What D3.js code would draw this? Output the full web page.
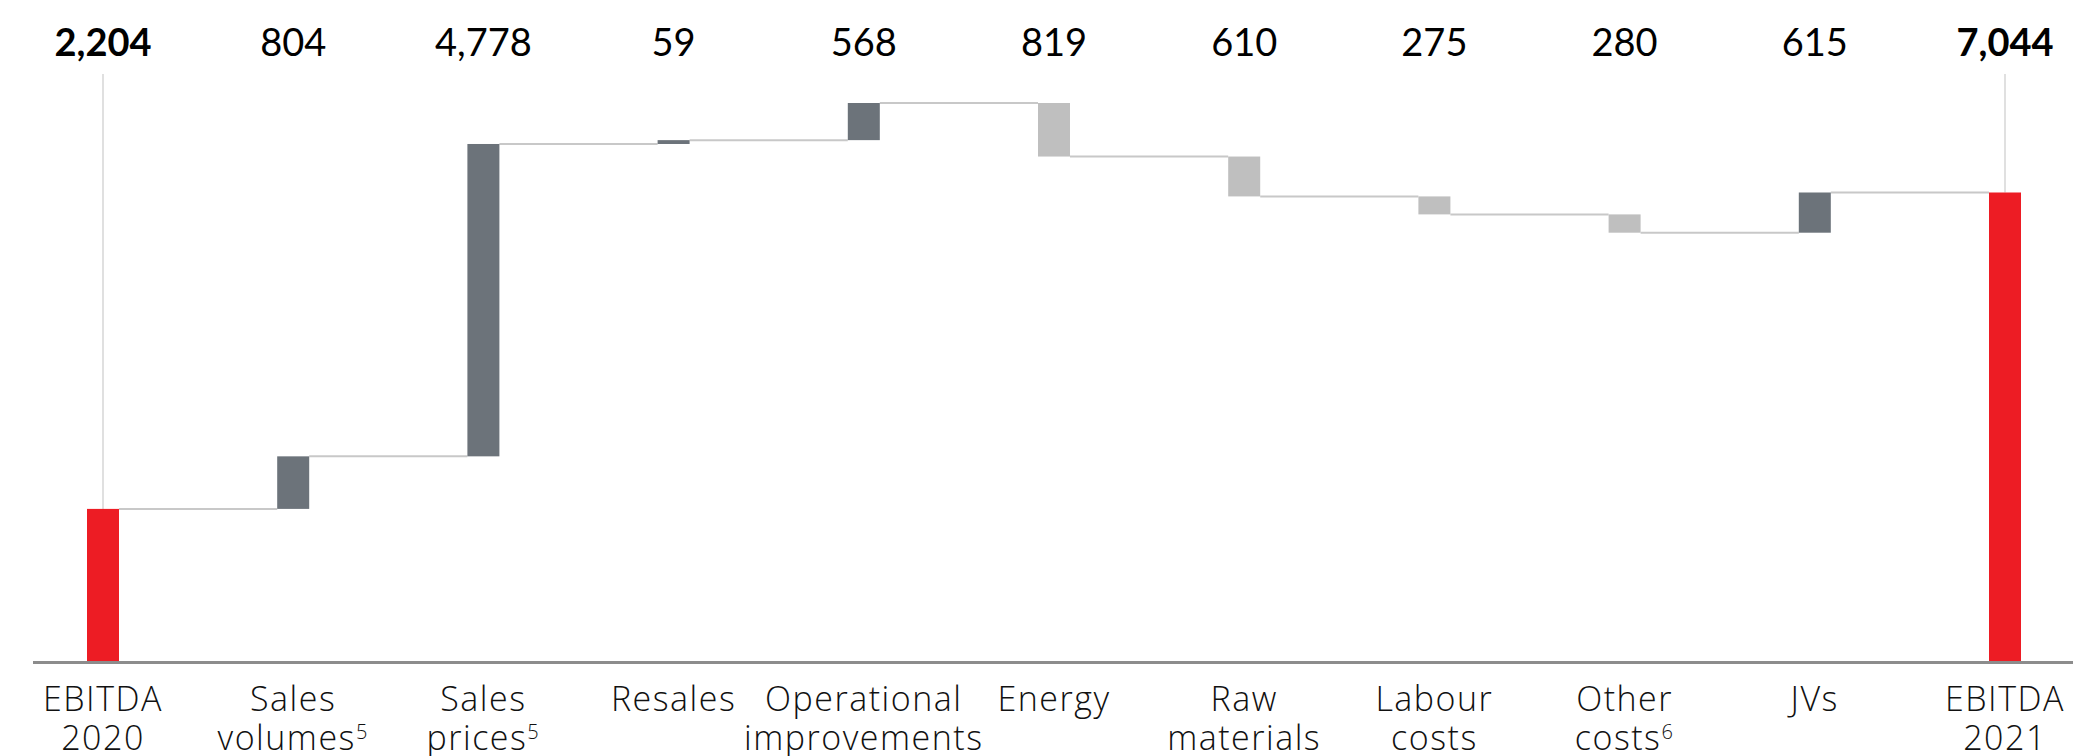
<!DOCTYPE html>
<html>
<head>
<meta charset="utf-8">
<script src="https://cdn.jsdelivr.net/npm/d3@7"></script>
<style>
  body { margin: 0; background: #fff; }
  svg { display: block; }
  .val { font-family: Lato, "Open Sans", sans-serif; font-size: 38px; fill: #000; }
  .cat { font-family: "Open Sans", Lato, sans-serif; font-weight: 300; font-size: 34px; letter-spacing: 1.5px; fill: #111; }
</style>
</head>
<body>
<svg width="2073" height="756"></svg>
<script>
  // data
  const categories = ["EBITDA 2020", "Sales volumes", "Sales prices", "Resales", "Operational improvements",
                      "Energy", "Raw materials", "Labour costs", "Other costs", "JVs", "EBITDA 2021"];
  const labelLines = [["EBITDA", "2020"], ["Sales", "volumes"], ["Sales", "prices"], ["Resales"],
                      ["Operational", "improvements"], ["Energy"], ["Raw", "materials"], ["Labour", "costs"],
                      ["Other", "costs"], ["JVs"], ["EBITDA", "2021"]];
  const footnotes = ["", "5", "5", "", "", "", "", "", "6", "", ""];
  const values = [2204, 804, 4778, 59, 568, -819, -610, -275, -280, 615, 7044];
  const kinds = ["total", "up", "up", "up", "up", "down", "down", "down", "down", "up", "total"];

  const svg = d3.select('svg');
  const g = svg.append('g');

  const colors = { total: '#ed1c24', up: '#6c737a', down: '#bfbfbf' };

  // running totals
  let run = 0;
  const bars = values.map((v, i) => {
    let start, end;
    if (kinds[i] === 'total') { start = 0; end = v; run = v; }
    else { start = run; end = run + v; run = end; }
    return { cat: categories[i], i, v, start, end, kind: kinds[i] };
  });

  const x = d3.scalePoint().domain(categories).range([103, 2005]);
  const y = d3.scaleLinear().domain([-138, 8413]).range([662, 103]);
  const bw = 32;

  // vertical guide lines above the totals
  g.selectAll('line.guide')
    .data(bars.filter(d => d.kind === 'total'))
    .enter().append('line')
      .attr('x1', d => x(d.cat)).attr('x2', d => x(d.cat))
      .attr('y1', 74).attr('y2', d => y(d.end))
      .attr('stroke', '#d6d6d6').attr('stroke-width', 1.5);

  // connectors
  g.selectAll('line.conn')
    .data(bars.slice(0, -1))
    .enter().append('line')
      .attr('x1', d => x(d.cat) + bw / 2)
      .attr('x2', d => x(categories[d.i + 1]) - bw / 2)
      .attr('y1', d => y(d.end)).attr('y2', d => y(d.end))
      .attr('stroke', '#c8c8c8').attr('stroke-width', 2);

  // bars
  g.selectAll('rect')
    .data(bars)
    .enter().append('rect')
      .attr('x', d => x(d.cat) - bw / 2)
      .attr('width', bw)
      .attr('y', d => d.kind === 'total' ? y(d.end) : y(Math.max(d.start, d.end)))
      .attr('height', d => d.kind === 'total' ? y.range()[0] - y(d.end) : Math.abs(y(d.start) - y(d.end)))
      .attr('fill', d => colors[d.kind]);

  // baseline
  g.append('line')
    .attr('x1', 33).attr('x2', 2073)
    .attr('y1', y.range()[0] + 0.5).attr('y2', y.range()[0] + 0.5)
    .attr('stroke', '#8c8c8c').attr('stroke-width', 3);

  // values on top
  const fmt = d3.format(',');
  g.selectAll('text.val')
    .data(bars)
    .enter().append('text')
      .attr('class', 'val')
      .attr('x', d => x(d.cat))
      .attr('y', 56)
      .attr('text-anchor', 'middle')
      .style('font-weight', d => d.kind === 'total' ? 700 : 400)
      .text(d => fmt(Math.abs(d.v)));

  // category labels
  const cats = g.selectAll('text.cat')
    .data(bars)
    .enter().append('text')
      .attr('class', 'cat')
      .attr('text-anchor', 'middle')
      .attr('x', d => x(d.cat))
      .attr('y', 711);

  cats.each(function(d) {
    const t = d3.select(this);
    const lines = labelLines[d.i];
    lines.forEach((ln, j) => {
      t.append('tspan')
        .attr('x', x(d.cat))
        .attr('y', 711 + 39 * j)
        .text(ln);
      if (j === lines.length - 1 && footnotes[d.i]) {
        t.append('tspan')
          .attr('dy', -11)
          .style('font-size', '20px')
          .text(footnotes[d.i]);
      }
    });
  });
</script>
</body>
</html>
